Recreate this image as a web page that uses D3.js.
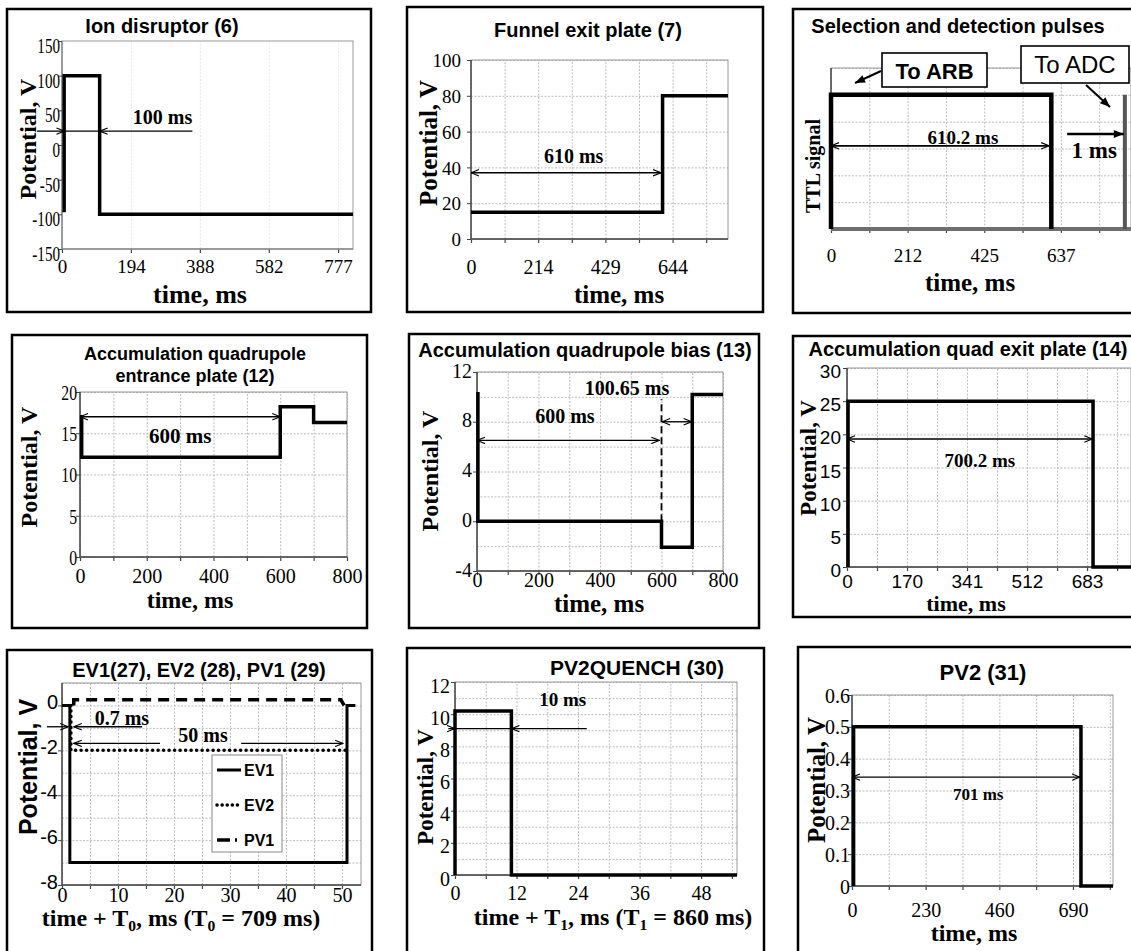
<!doctype html>
<html>
<head>
<meta charset="utf-8"/>
<title>Pulse sequences</title>
<script src="https://d3js.org/d3.v7.min.js"></script>
<style>
  body { margin: 0; background: #fff; }
</style>
</head>
<body>
<script>
// ---------------- values (time in ms, potential in V) ----------------
const ionDisruptor = [[6,-97],[6,100],[106,100],[106,-100],[819,-100]];
const funnelExit   = [[0,15],[612,15],[612,80],[821,80]];
const ttlLow       = [[0,0],[832,0]];
const toARB        = [[0,0],[0,5],[611,5],[611,0]];
const toADC        = [[815,0],[815,5]];
const quadEntrance = [[5,17.2],[5,12.1],[600,12.1],[600,18.2],[700,18.2],[700,16.3],[800,16.3]];
const quadBias     = [[3,10.4],[3,0],[600,0],[600,-2.1],[700,-2.1],[700,10.2],[800,10.2]];
const quadExit     = [[3,0],[3,25],[700,25],[700,0],[808,0]];
const ev1          = [[0,0],[1.4,0],[1.4,-7],[50.9,-7],[50.9,0],[52.4,0]];
const ev2          = [[1.6,0],[1.6,-2],[50.6,-2]];
const pv1          = [[2.1,0],[2.1,0.25],[49.8,0.25],[50.4,0]];
const pv2Quench    = [[0,0],[0,10.2],[11,10.2],[11,0],[55,0]];
const pv2          = [[5,0],[5,0.5],[715,0.5],[715,0],[815,0]];

// tick labels
const ionX = [0,194,388,582,777],      ionY = [-150,-100,-50,0,50,100,150];
const funnelX = [0,214,429,644],       funnelY = [0,20,40,60,80,100];
const ttlX = [0,212,425,637];
const entranceX = [0,200,400,600,800], entranceY = [0,5,10,15,20];
const biasX = [0,200,400,600,800],     biasY = [-4,0,4,8,12];
const exitX = [0,170,341,512,683],     exitY = [0,5,10,15,20,25,30];
const evX = [0,10,20,30,40,50],        evY = [-8,-6,-4,-2,0];
const quenchX = [0,12,24,36,48],       quenchY = [0,2,4,6,8,10,12];
const pv2X = [0,230,460,690],          pv2Y = [0,0.1,0.2,0.3,0.4,0.5,0.6];

const SERIF = '"Liberation Serif","Times New Roman",serif';
const SANS  = '"Liberation Sans",Arial,sans-serif';

const svg = d3.select("body").append("svg")
  .attr("width", 1131).attr("height", 951).style("display", "block");

const defs = svg.append("defs");
defs.append("marker").attr("id", "open")
  .attr("viewBox", "0 0 10 10").attr("refX", 10).attr("refY", 5)
  .attr("markerWidth", 9).attr("markerHeight", 8).attr("markerUnits", "userSpaceOnUse")
  .attr("orient", "auto-start-reverse")
  .append("path").attr("d", "M0,1 L10,5 L0,9").attr("fill", "none")
  .attr("stroke", "#000").attr("stroke-width", 1.4);
defs.append("marker").attr("id", "solid")
  .attr("viewBox", "0 0 10 10").attr("refX", 10).attr("refY", 5)
  .attr("markerWidth", 12).attr("markerHeight", 10).attr("markerUnits", "userSpaceOnUse")
  .attr("orient", "auto-start-reverse")
  .append("path").attr("d", "M0,1 L10,5 L0,9 Z").attr("fill", "#000");

function addText(sel, o) {
  const t = sel.append("text").attr("x", o.x).attr("y", o.y)
    .attr("text-anchor", o.anchor || "middle")
    .attr("font-family", o.font || SERIF)
    .attr("font-weight", o.weight || "bold")
    .attr("font-size", o.size).attr("fill", "#000");
  if (o.rotate) t.attr("transform", `rotate(-90,${o.x},${o.y})`);
  let prevSub = false;
  (o.parts || [{t: o.text}]).forEach(p => {
    const s = t.append("tspan").text(p.t);
    if (p.sub) s.attr("font-size", o.size * 0.65).attr("dy", o.size * 0.22);
    else if (prevSub) s.attr("dy", -o.size * 0.22);
    prevSub = !!p.sub;
  });
  return t;
}

function drawPanel(p) {
  const g = svg.append("g");
  const [L, T, R, B] = p.plot;
  const x = d3.scaleLinear().domain(p.xDomain).range([L, R]);
  const y = d3.scaleLinear().domain(p.yDomain).range([B, T]);

  // grid
  if (p.gridX) {
    const gx = g.append("g").attr("transform", `translate(0,${B})`)
      .call(d3.axisBottom(x).tickValues(p.gridX).tickSize(-(B - T)).tickFormat(""));
    gx.select(".domain").remove();
    gx.selectAll("line").attr("stroke", "#bdbdbd").attr("stroke-dasharray", "2,1.5")
      .attr("opacity", p.gridOpacity || 1);
    const tm = g.append("g").attr("transform", `translate(0,${B})`)
      .call(d3.axisBottom(x).tickValues(p.gridX).tickSize(4).tickFormat(""));
    tm.select(".domain").remove();
    tm.selectAll("line").attr("stroke", "#444").attr("stroke-width", 1.2);
  }
  if (p.gridY) {
    const gy = g.append("g").attr("transform", `translate(${L},0)`)
      .call(d3.axisLeft(y).tickValues(p.gridY).tickSize(-(R - L)).tickFormat(""));
    gy.select(".domain").remove();
    gy.selectAll("line").attr("stroke", "#bdbdbd").attr("stroke-dasharray", "2,1.5");
  }
  g.append("rect").attr("x", L).attr("y", T).attr("width", R - L).attr("height", B - T)
    .attr("fill", "none").attr("stroke", "#9a9a9a").attr("stroke-width", 1);
  g.append("line").attr("x1", L).attr("x2", L).attr("y1", T).attr("y2", B)
    .attr("stroke", p.axisColor || "#444").attr("stroke-width", 1.4);
  g.append("line").attr("x1", L).attr("x2", R).attr("y1", B).attr("y2", B)
    .attr("stroke", p.axisColor || "#444").attr("stroke-width", 1.4);

  // x tick labels
  const xa = g.append("g").attr("transform", `translate(0,${B})`)
    .call(d3.axisBottom(x).tickValues(p.xTicks).tickSize(0).tickFormat(d => String(d)));
  xa.select(".domain").remove();
  xa.selectAll("text").attr("y", p.xLab.base - B).attr("dy", 0)
    .attr("font-family", p.xLab.font || SERIF).attr("font-size", p.xLab.size).attr("fill", "#000");

  // y tick labels
  if (p.yTicks) {
    const sx = p.yLab.sx || 1;
    const ya = g.append("g").attr("transform", `translate(${L},0)`)
      .call(d3.axisLeft(y).tickValues(p.yTicks).tickSize(4).tickFormat(p.yFormat || (d => String(d))));
    ya.select(".domain").remove();
    ya.selectAll("line").attr("stroke", "#444");
    ya.selectAll("text").attr("x", (p.yLab.right - L) / sx)
      .attr("dy", p.yLab.size * 0.35 + (p.yLab.shift || 0))
      .attr("transform", `scale(${sx},1)`)
      .attr("font-family", p.yLab.font || SERIF).attr("font-size", p.yLab.size).attr("fill", "#000");
  }

  // series
  const line = d3.line().x(d => x(d[0])).y(d => y(d[1]));
  p.series.forEach(s => {
    g.append("path").attr("d", line(s.data)).attr("fill", "none")
      .attr("stroke", s.color || "#000").attr("stroke-width", s.width || 3.5)
      .attr("stroke-dasharray", s.dash || null)
      .attr("stroke-linecap", s.cap || "butt").attr("stroke-linejoin", "miter");
  });

  // arrows / annotation lines
  (p.arrows || []).forEach(a => {
    const l = g.append("line")
      .attr("x1", x(a.x1)).attr("x2", x(a.x2))
      .attr("y1", y(a.y1 !== undefined ? a.y1 : a.y)).attr("y2", y(a.y2 !== undefined ? a.y2 : a.y))
      .attr("stroke", "#000").attr("stroke-width", a.w || 1.3)
      .attr("stroke-dasharray", a.dash || null);
    const m = `url(#${a.head || "open"})`;
    if (a.start) l.attr("marker-start", m);
    if (a.end) l.attr("marker-end", m);
  });
  (p.notes || []).forEach(n => addText(g, {text: n.text, x: x(n.x), y: y(n.y), size: n.size}));

  // titles
  p.title.lines.forEach((t, i) => addText(g, {text: t, x: p.title.x, y: p.title.y + i * (p.title.lh || 0),
    size: p.title.size, font: SANS}));
  addText(g, Object.assign({rotate: true}, p.yTitle));
  addText(g, p.xTitle);

  if (p.extra) p.extra(g, x, y);

  // frame
  const [fx0, fy0, fx1, fy1] = p.frame;
  svg.append("rect").attr("x", fx0).attr("y", fy0).attr("width", fx1 - fx0).attr("height", fy1 - fy0)
    .attr("fill", "none").attr("stroke", "#000").attr("stroke-width", 2.5);
}

const panels = [
  { // Ion disruptor
    frame: [7, 9, 371, 312], plot: [62, 41, 353, 249], xDomain: [0, 819], yDomain: [-150, 150],
    xTicks: ionX, yTicks: ionY, gridX: ionX, gridOpacity: 0.35, axisColor: "#888",
    xLab: {base: 273, size: 19}, yLab: {right: 60, size: 21, sx: 0.72, shift: 4},
    title: {lines: ["Ion disruptor (6)"], x: 162, y: 33, size: 20},
    yTitle: {text: "Potential, V", x: 36, y: 139, size: 24},
    xTitle: {text: "time, ms", x: 200, y: 303, size: 26},
    series: [{data: ionDisruptor}],
    arrows: [{x1: -70, x2: 7, y: 20, end: true}, {x1: 7, x2: 106, y: 20}, {x1: 367, x2: 106, y: 20, end: true}],
    notes: [{text: "100 ms", x: 283, y: 30, size: 20}]
  },
  { // Funnel exit plate
    frame: [407, 7, 763, 312], plot: [471, 60, 728, 239], xDomain: [0, 821], yDomain: [0, 100],
    xTicks: funnelX, yTicks: funnelY, gridX: d3.range(0, 822, 644 / 6), gridY: funnelY,
    xLab: {base: 274, size: 20}, yLab: {right: 461, size: 19},
    title: {lines: ["Funnel exit plate (7)"], x: 588, y: 37, size: 20},
    yTitle: {text: "Potential, V", x: 437, y: 143, size: 25},
    xTitle: {text: "time, ms", x: 619, y: 303, size: 25},
    series: [{data: funnelExit}],
    arrows: [{x1: 0, x2: 607, y: 37, start: true, end: true}],
    notes: [{text: "610 ms", x: 328, y: 42.5, size: 20}]
  },
  { // Selection and detection pulses
    frame: [793, 9, 1140, 313], plot: [831, 68, 1131, 229], xDomain: [0, 832], yDomain: [0, 6],
    xTicks: ttlX, yTicks: null, gridX: d3.range(0, 833, 106.25), gridY: [0, 1, 2, 3, 4, 5, 6],
    xLab: {base: 262, size: 19},
    title: {lines: ["Selection and detection pulses"], x: 958, y: 33, size: 20},
    yTitle: {text: "TTL signal", x: 820, y: 166, size: 20},
    xTitle: {text: "time, ms", x: 970, y: 291, size: 25},
    series: [{data: ttlLow, color: "#6e6e6e", width: 4}, {data: toARB, width: 4.5}, {data: toADC, color: "#555", width: 4}],
    arrows: [{x1: 0, x2: 605, y: 3.1, start: true, end: true, w: 1.8},
             {x1: 655, x2: 812, y: 3.54, end: true, head: "solid", w: 2.5}],
    notes: [{text: "610.2 ms", x: 366, y: 3.15, size: 19}, {text: "1 ms", x: 730, y: 2.65, size: 23}],
    extra: (g) => {
      const box = (r, label, weight, size, base, from, to) => {
        g.append("rect").attr("x", r[0]).attr("y", r[1]).attr("width", r[2] - r[0]).attr("height", r[3] - r[1])
          .attr("fill", "#fff").attr("stroke", "#000").attr("stroke-width", 1.6);
        addText(g, {text: label, x: (r[0] + r[2]) / 2, y: base, size: size, font: SANS, weight: weight});
        g.append("line").attr("x1", from[0]).attr("y1", from[1]).attr("x2", to[0]).attr("y2", to[1])
          .attr("stroke", "#000").attr("stroke-width", 2).attr("marker-end", "url(#solid)");
      };
      box([882, 53, 987, 87], "To ARB", "bold", 22, 79, [881, 71], [855, 83]);
      box([1021, 46, 1129, 83], "To ADC", "normal", 24, 73, [1086, 85], [1110, 107]);
    }
  },
  { // Accumulation quadrupole entrance plate
    frame: [12, 335, 367, 628], plot: [80, 392, 347, 557], xDomain: [0, 800], yDomain: [0, 20],
    xTicks: entranceX, yTicks: entranceY, gridX: d3.range(0, 801, 100), gridY: entranceY,
    xLab: {base: 583, size: 20}, yLab: {right: 77, size: 21, sx: 0.75},
    title: {lines: ["Accumulation quadrupole", "entrance plate (12)"], x: 195, y: 360, lh: 22, size: 18},
    yTitle: {text: "Potential, V", x: 37, y: 467, size: 24},
    xTitle: {text: "time, ms", x: 190, y: 608, size: 24},
    series: [{data: quadEntrance}],
    arrows: [{x1: 0, x2: 600, y: 17, start: true, end: true}],
    notes: [{text: "600 ms", x: 300, y: 13.8, size: 21}]
  },
  { // Accumulation quadrupole bias
    frame: [409, 334, 759, 628], plot: [477, 372, 723, 571], xDomain: [0, 800], yDomain: [-4, 12],
    xTicks: biasX, yTicks: biasY, gridX: d3.range(0, 801, 100), gridY: d3.range(-4, 13, 2),
    xLab: {base: 587, size: 20}, yLab: {right: 472, size: 20, shift: -2},
    title: {lines: ["Accumulation quadrupole bias (13)"], x: 585, y: 357, size: 20},
    yTitle: {text: "Potential, V", x: 438, y: 471, size: 24},
    xTitle: {text: "time, ms", x: 599, y: 612, size: 25},
    series: [{data: quadBias}],
    arrows: [{x1: 0, x2: 593, y: 6.5, start: true, end: true},
             {x1: 602, x2: 698, y: 8, start: true, end: true},
             {x1: 600, x2: 600, y1: 0, y2: 9.8, w: 1.8, dash: "7,4"}],
    notes: [{text: "600 ms", x: 286, y: 7.9, size: 20}, {text: "100.65 ms", x: 488, y: 10.15, size: 20}]
  },
  { // Accumulation quad exit plate
    frame: [793, 336, 1140, 617], plot: [847, 368, 1131, 567], xDomain: [0, 808], yDomain: [0, 30],
    xTicks: exitX, yTicks: exitY, gridX: d3.range(0, 809, 85.375), gridY: exitY,
    xLab: {base: 588, size: 19, font: SANS}, yLab: {right: 841, size: 19, font: SANS, shift: 3},
    title: {lines: ["Accumulation quad exit plate (14)"], x: 968, y: 356, size: 20},
    yTitle: {text: "Potential, V", x: 816, y: 458, size: 23},
    xTitle: {text: "time, ms", x: 966, y: 611, size: 22},
    series: [{data: quadExit}],
    arrows: [{x1: 0, x2: 698, y: 19.3, start: true, end: true}],
    notes: [{text: "700.2 ms", x: 378, y: 15.1, size: 19}]
  },
  { // EV1, EV2, PV1
    frame: [7, 650, 372, 960], plot: [62, 683, 361, 885], xDomain: [0, 53.4], yDomain: [-8, 1],
    xTicks: evX, yTicks: evY, gridX: d3.range(0, 54, 5), gridY: d3.range(-8, 2, 1),
    xLab: {base: 902, size: 20}, yLab: {right: 58, size: 20, font: SANS, shift: -4},
    title: {lines: ["EV1(27), EV2 (28), PV1 (29)"], x: 199, y: 677, size: 20},
    yTitle: {text: "Potential, V", x: 37, y: 767, size: 25, font: SANS},
    xTitle: {x: 181, y: 926, size: 24, parts: [{t: "time + T"}, {t: "0", sub: true}, {t: ", ms (T"},
             {t: "0", sub: true}, {t: " = 709 ms)"}]},
    series: [{data: ev1, width: 3},
             {data: ev2, width: 3.5, dash: "0.1,5.4", cap: "round"},
             {data: pv1, width: 3.5, dash: "11,7"}],
    arrows: [{x1: -2.7, x2: 1.1, y: -0.95, end: true}, {x1: 14.3, x2: 2.1, y: -0.95, end: true},
             {x1: 17.5, x2: 2.1, y: -1.69, end: true}, {x1: 32, x2: 50.2, y: -1.69, end: true}],
    notes: [{text: "0.7 ms", x: 10.7, y: -0.85, size: 20}, {text: "50 ms", x: 25.2, y: -1.62, size: 20}],
    extra: (g) => {
      g.append("rect").attr("x", 212).attr("y", 755).attr("width", 70).attr("height", 97)
        .attr("fill", "#fff").attr("stroke", "#888").attr("stroke-width", 1);
      const items = [["EV1", null, "butt", 3], ["EV2", "0.1,5", "round", 3.5], ["PV1", "13,5,2,5", "butt", 3.5]];
      items.forEach((it, i) => {
        const yy = 770 + i * 35;
        g.append("line").attr("x1", 217).attr("x2", 241).attr("y1", yy).attr("y2", yy)
          .attr("stroke", "#000").attr("stroke-width", it[3]).attr("stroke-dasharray", it[1])
          .attr("stroke-linecap", it[2]);
        addText(g, {text: it[0], x: 244, y: yy + 6, size: 16, font: SANS, anchor: "start"});
      });
    }
  },
  { // PV2QUENCH
    frame: [407, 648, 764, 960], plot: [455, 682, 737, 875], xDomain: [0, 55], yDomain: [0, 12],
    xTicks: quenchX, yTicks: quenchY, gridX: d3.range(0, 56, 6), gridY: d3.range(0, 13, 1),
    xLab: {base: 900, size: 20}, yLab: {right: 450, size: 20, shift: 3},
    title: {lines: ["PV2QUENCH (30)"], x: 637, y: 675, size: 21},
    yTitle: {text: "Potential, V", x: 433, y: 787, size: 23},
    xTitle: {x: 613, y: 925, size: 24, parts: [{t: "time + T"}, {t: "1", sub: true}, {t: ", ms (T"},
             {t: "1", sub: true}, {t: " = 860 ms)"}]},
    series: [{data: pv2Quench}],
    arrows: [{x1: -1.3, x2: 0, y: 9.1, end: true}, {x1: 0, x2: 11, y: 9.1}, {x1: 25.7, x2: 11, y: 9.1, end: true}],
    notes: [{text: "10 ms", x: 21, y: 10.5, size: 19}]
  },
  { // PV2
    frame: [798, 647, 1140, 960], plot: [852, 695, 1113, 886], xDomain: [0, 815], yDomain: [0, 0.6],
    xTicks: pv2X, yTicks: pv2Y, gridX: d3.range(0, 816, 115), gridY: pv2Y,
    xLab: {base: 917, size: 20}, yLab: {right: 850, size: 20},
    yFormat: d => d === 0 ? "0" : d3.format(".1f")(d),
    title: {lines: ["PV2 (31)"], x: 983, y: 680, size: 22},
    yTitle: {text: "Potential, V", x: 825, y: 780, size: 25},
    xTitle: {text: "time, ms", x: 974, y: 941, size: 24},
    series: [{data: pv2}],
    arrows: [{x1: 0, x2: 712, y: 0.342, start: true, end: true}],
    notes: [{text: "701 ms", x: 394, y: 0.27, size: 17}]
  }
];

panels.forEach(drawPanel);
</script>
</body>
</html>
